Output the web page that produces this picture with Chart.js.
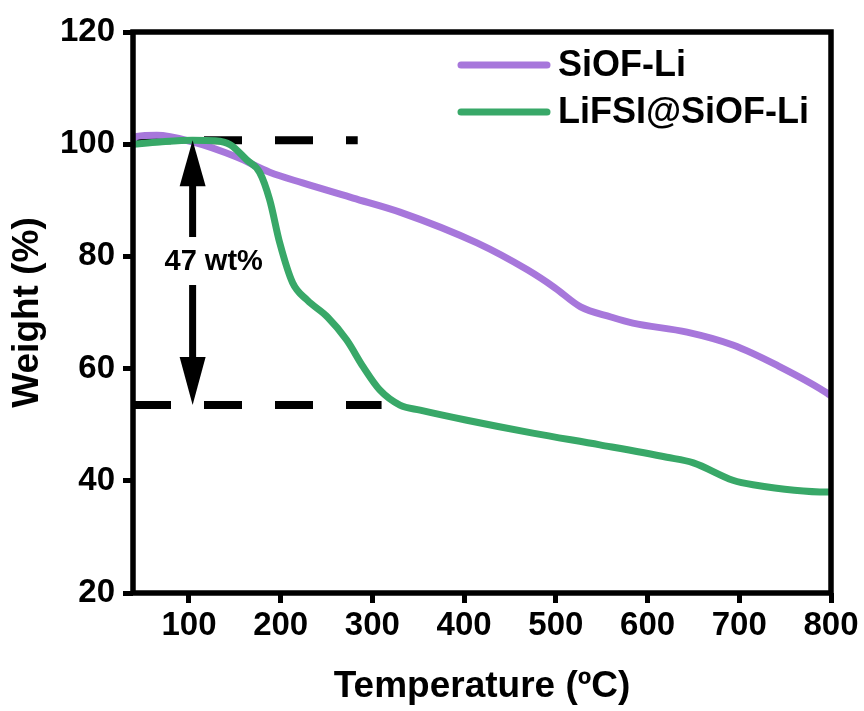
<!DOCTYPE html>
<html>
<head>
<meta charset="utf-8">
<script src="https://cdn.jsdelivr.net/npm/chart.js@4.4.1/dist/chart.umd.min.js"></script>
<style>
  html, body { margin: 0; padding: 0; background: #fff; }
  canvas { display: block; }
</style>
</head>
<body>
<canvas id="tgaChart" width="864" height="711"></canvas>
<script>
// values
const siofTemp = [39, 43, 65, 104, 152, 188, 224, 279, 330, 414, 469, 499, 527, 560, 584, 643, 693, 741, 796, 800];
const siofWeight = [100.7, 101.4, 101.6, 100.4, 97.7, 95.0, 93.1, 90.4, 87.9, 82.4, 77.6, 74.4, 71.0, 69.2, 68.1, 66.5, 64.2, 60.6, 55.6, 55.1];

const lifsiTemp = [39, 68, 104, 129, 145, 163, 177, 188, 199, 213, 229, 251, 272, 290, 308, 330, 352, 403, 475, 548, 621, 650, 693, 715, 796, 800];
const lifsiWeight = [100.0, 100.4, 100.7, 100.6, 99.9, 97.2, 95.0, 90.1, 82.4, 75.3, 72.2, 69.2, 65.1, 60.3, 56.2, 53.5, 52.6, 50.8, 48.5, 46.4, 44.2, 43.2, 40.1, 39.3, 38.0, 38.0];

const seriesLabels = ["SiOF-Li", "LiFSI@SiOF-Li"];
const seriesColors = ["#a777db", "#38a868"];

const xTicks = [100, 200, 300, 400, 500, 600, 700, 800];
const yTicks = [20, 40, 60, 80, 100, 120];

// dashed guide lines and the weight-loss arrow
const guideTopTemp = [39, 284];
const guideTopWeight = [100.7, 100.7];
const guideBottomTemp = [39, 310];
const guideBottomWeight = [53.5, 53.5];
const arrowTemp = 104;
const arrowWeights = [100.7, 53.5];
const lossLabel = "47 wt%";
const lossLabelTemp = 127;
const lossLabelWeight = 79;

const FONT = "'Liberation Sans', Arial, sans-serif";

function toPoints(xs, ys) {
  return xs.map((x, i) => ({ x, y: ys[i] }));
}

const frameAndNotes = {
  id: "frameAndNotes",
  afterDatasetsDraw(chart) {
    const { ctx, chartArea: area, scales: { x, y } } = chart;
    ctx.save();

    ctx.strokeStyle = "#000";
    ctx.lineWidth = 5.5;
    ctx.strokeRect(area.left, area.top, area.right - area.left, area.bottom - area.top);

    // double arrow with label
    const ax = x.getPixelForValue(arrowTemp);
    const top = y.getPixelForValue(arrowWeights[0]);
    const bottom = y.getPixelForValue(arrowWeights[1]);
    const labelY = y.getPixelForValue(lossLabelWeight);
    ctx.fillStyle = "#000";
    ctx.beginPath();
    ctx.moveTo(ax, top);
    ctx.lineTo(ax - 13, top + 46);
    ctx.lineTo(ax + 13, top + 46);
    ctx.closePath();
    ctx.fill();
    ctx.fillRect(ax - 3.5, top + 44, 7, labelY - 25 - (top + 44));
    ctx.beginPath();
    ctx.moveTo(ax, bottom);
    ctx.lineTo(ax - 13, bottom - 48);
    ctx.lineTo(ax + 13, bottom - 48);
    ctx.closePath();
    ctx.fill();
    ctx.fillRect(ax - 3.5, labelY + 23, 7, bottom - 46 - (labelY + 23));

    ctx.font = `bold 29px ${FONT}`;
    ctx.textAlign = "center";
    ctx.textBaseline = "middle";
    ctx.fillText(lossLabel, x.getPixelForValue(lossLabelTemp), labelY);

    // legend in the upper right of the plot
    ctx.lineCap = "round";
    ctx.lineWidth = 7;
    ctx.font = `bold 36px ${FONT}`;
    ctx.textAlign = "left";
    seriesLabels.forEach((label, i) => {
      const ly = area.top + 33 + i * 47;
      ctx.strokeStyle = seriesColors[i];
      ctx.beginPath();
      ctx.moveTo(area.left + 328, ly);
      ctx.lineTo(area.left + 414, ly);
      ctx.stroke();
      ctx.fillStyle = "#000";
      ctx.fillText(label, area.left + 425, ly + 1);
    });

    ctx.restore();
  }
};

const guideStyle = {
  borderColor: "#000",
  borderWidth: 8,
  borderDash: [38, 33],
  borderCapStyle: "butt",
  pointRadius: 0,
  tension: 0
};

new Chart(document.getElementById("tgaChart"), {
  type: "line",
  data: {
    datasets: [
      { label: "guideTop", data: toPoints(guideTopTemp, guideTopWeight), ...guideStyle, order: 3 },
      { label: "guideBottom", data: toPoints(guideBottomTemp, guideBottomWeight), ...guideStyle, order: 3 },
      {
        label: seriesLabels[0],
        data: toPoints(siofTemp, siofWeight),
        borderColor: seriesColors[0],
        borderWidth: 7,
        pointRadius: 0,
        cubicInterpolationMode: "monotone",
        order: 2
      },
      {
        label: seriesLabels[1],
        data: toPoints(lifsiTemp, lifsiWeight),
        borderColor: seriesColors[1],
        borderWidth: 7,
        pointRadius: 0,
        cubicInterpolationMode: "monotone",
        order: 1
      }
    ]
  },
  options: {
    responsive: false,
    animation: false,
    devicePixelRatio: 1,
    layout: { padding: { top: 32, right: 33, left: 0, bottom: 0 } },
    plugins: { legend: { display: false }, tooltip: { enabled: false } },
    scales: {
      x: {
        type: "linear",
        min: 39,
        max: 800,
        afterBuildTicks: (scale) => {
          scale.ticks = xTicks.map((value) => ({ value }));
        },
        afterFit: (scale) => {
          scale.height = 118;
        },
        grid: { drawOnChartArea: false, tickLength: 10, tickWidth: 5, tickColor: "#000" },
        border: { display: false },
        ticks: { color: "#000", padding: 3, maxRotation: 0, font: { family: FONT, size: 33, weight: "bold" } },
        title: {
          display: true,
          text: "Temperature (ºC)",
          color: "#000",
          padding: { top: 0, bottom: 2 },
          font: { family: FONT, size: 37, weight: "bold" }
        }
      },
      y: {
        min: 20,
        max: 120,
        afterBuildTicks: (scale) => {
          scale.ticks = yTicks.map((value) => ({ value }));
        },
        afterFit: (scale) => {
          scale.width = 133;
        },
        grid: { drawOnChartArea: false, tickLength: 10, tickWidth: 5, tickColor: "#000" },
        border: { display: false },
        ticks: { color: "#000", padding: 8, font: { family: FONT, size: 33, weight: "bold" } },
        title: {
          display: true,
          text: "Weight (%)",
          color: "#000",
          padding: { top: 6, bottom: 0 },
          font: { family: FONT, size: 37, weight: "bold" }
        }
      }
    }
  },
  plugins: [frameAndNotes]
});
</script>
</body>
</html>
